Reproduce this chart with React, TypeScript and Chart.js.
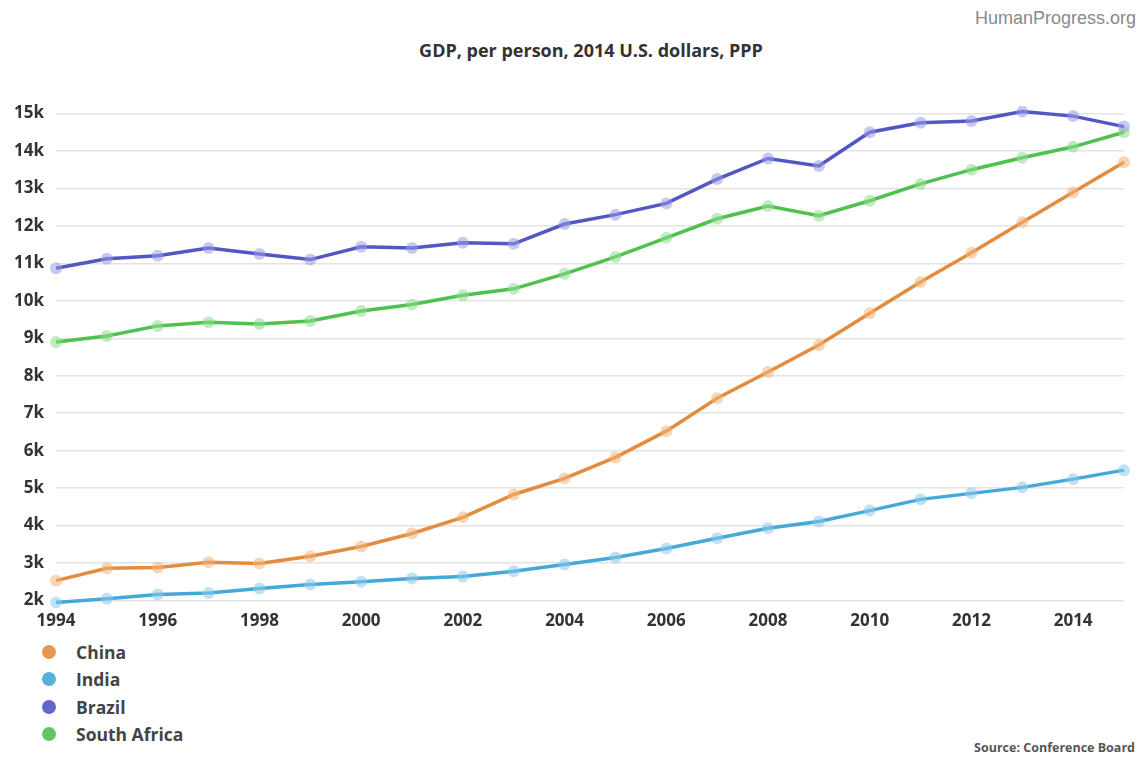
import React, { useEffect, useRef } from "react";
import { Chart, registerables } from "chart.js";

Chart.register(...registerables);

const years = ["1994","1995","1996","1997","1998","1999","2000","2001","2002","2003","2004","2005","2006","2007","2008","2009","2010","2011","2012","2013","2014","2015"];
const china = [2530,2860,2880,3020,2990,3180,3440,3790,4220,4830,5260,5820,6520,7400,8100,8820,9670,10500,11280,12100,12900,13700];
const india = [1950,2050,2160,2200,2320,2430,2500,2590,2640,2780,2960,3150,3390,3660,3930,4110,4400,4700,4860,5020,5240,5480];
const brazil = [10870,11120,11200,11410,11250,11100,11440,11410,11550,11520,12050,12300,12600,13250,13800,13600,14500,14750,14800,15050,14930,14650];
const southAfrica = [8900,9060,9330,9430,9380,9460,9730,9900,10150,10320,10720,11170,11680,12190,12530,12270,12670,13120,13500,13820,14110,14500];
const yTicks = [2000,3000,4000,5000,6000,7000,8000,9000,10000,11000,12000,13000,14000,15000];
const xTickLabels = ["1994","1996","1998","2000","2002","2004","2006","2008","2010","2012","2014"];

const seriesNames = ["China", "India", "Brazil", "South Africa"];
const seriesColors = ["#e38c3e", "#45a8d8", "#5257c4", "#50c050"];
const pointColors = ["rgba(240,180,120,0.55)", "rgba(140,200,235,0.55)", "rgba(150,155,230,0.55)", "rgba(140,220,140,0.55)"];

const FONT = "'Open Sans', 'Noto Sans', sans-serif";

export default function App() {
  const ref = useRef<HTMLCanvasElement | null>(null);
  useEffect(() => {
    if (!ref.current) return;
    const all = [china, india, brazil, southAfrica];
    const chart = new Chart(ref.current, {
      type: "line",
      data: {
        labels: years,
        datasets: all.map((d, i) => ({
          label: seriesNames[i],
          data: d,
          borderColor: seriesColors[i],
          backgroundColor: pointColors[i],
          pointBackgroundColor: pointColors[i],
          pointBorderColor: "rgba(0,0,0,0)",
          pointRadius: 6,
          borderWidth: 3.5,
          tension: 0,
          fill: false,
        })),
      },
      options: {
        animation: false,
        responsive: false,
        maintainAspectRatio: false,
        layout: { padding: { top: 36, right: 18, left: 0, bottom: 0 } },
        plugins: { legend: { display: false }, tooltip: { enabled: false }, title: { display: false } },
        scales: {
          x: {
            grid: { display: false, drawTicks: false },
            border: { display: false },
            afterFit: (s: any) => { s.height = 30; },
            ticks: {
              autoSkip: false,
              maxRotation: 0,
              padding: 3,
              color: "#333",
              font: { family: FONT, size: 17, weight: "bold" },
              callback: function (this: any, v: any) {
                const l = years[v as number];
                return xTickLabels.includes(l) ? l : null;
              },
            },
          },
          y: {
            min: 1800,
            max: 15200,
            border: { display: false },
            grid: { color: "#e3e3e3", lineWidth: 1.5, drawTicks: false },
            afterFit: (s: any) => { s.width = 56; },
            afterBuildTicks: (s: any) => { s.ticks = yTicks.map((v) => ({ value: v })); },
            ticks: {
              padding: 12,
              color: "#333",
              font: { family: FONT, size: 17, weight: "bold" },
              callback: (v: any) => `${Math.round(Number(v) / 1000)}k`,
            },
          },
        },
      },
    });
    return () => chart.destroy();
  }, []);

  return (
    <div style={{ position: "absolute", left: 0, top: 0, width: 1142, height: 758, background: "#fff", fontFamily: FONT, overflow: "hidden" }}>
      <div style={{ position: "absolute", right: 6, top: 8, fontSize: 18, color: "#8a8a8a", fontFamily: "'Liberation Sans', Arial, sans-serif" }}>HumanProgress.org</div>
      <div style={{ position: "absolute", left: 0, width: 1182, top: 38, textAlign: "center", fontSize: 18, fontWeight: 700, color: "#333" }}>GDP, per person, 2014 U.S. dollars, PPP</div>
      <canvas ref={ref} width={1142} height={568} style={{ position: "absolute", left: 0, top: 70 }} />
      <div style={{ position: "absolute", left: 42, top: 638 }}>
        {seriesNames.map((n, i) => (
          <div key={n} style={{ display: "flex", alignItems: "center", height: 27.5 }}>
            <span style={{ display: "inline-block", width: 14, height: 14, borderRadius: 7, background: seriesColors[i], opacity: 0.9 }} />
            <span style={{ marginLeft: 20, fontSize: 17.5, fontWeight: 700, color: "#444" }}>{n}</span>
          </div>
        ))}
      </div>
      <div style={{ position: "absolute", right: 7, top: 739, fontSize: 12.5, fontWeight: 700, color: "#555" }}>Source: Conference Board</div>
    </div>
  );
}
